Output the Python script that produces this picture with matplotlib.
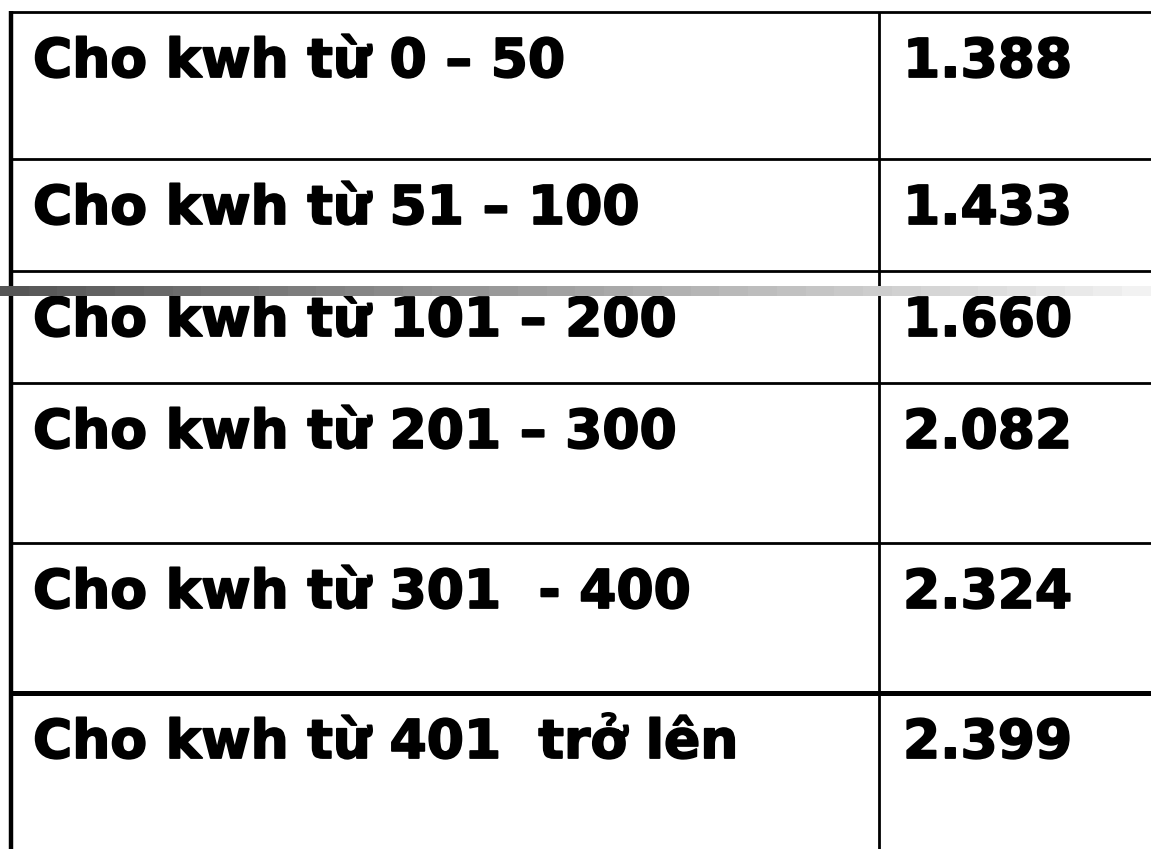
import numpy as np
import matplotlib
matplotlib.use("Agg")
import matplotlib.pyplot as plt
import matplotlib.patheffects as pe

# ---- data ----
labels = ["Cho kwh từ 0 – 50", "Cho kwh từ 51 – 100", "Cho kwh từ 101 – 200",
          "Cho kwh từ 201 – 300", "Cho kwh từ 301  - 400", "Cho kwh từ 401  trở lên"]
prices = ["1.388", "1.433", "1.660", "2.082", "2.324", "2.399"]

# ---- layout (pixel coordinates) ----
W, H = 1151, 849
row_tops = [12, 159, 271, 383, 543, 693]
row_lw = [2.0, 2.0, 2.0, 2.0, 2.0, 3.6]
left_x = 11.5
mid_x = 879
label_x = 33
value_x = 903
baseline_off = 65
fs = 38.5

fig = plt.figure(figsize=(W / 100, H / 100), dpi=100)
ax = fig.add_axes([0, 0, 1, 1])
ax.set_xlim(0, W)
ax.set_ylim(H, 0)
ax.axis("off")

# horizontal rules
for y, lw in zip(row_tops, row_lw):
    ax.plot([left_x, W], [y, y], color="black", lw=lw, solid_capstyle="butt", zorder=2)
# vertical rules
ax.plot([left_x, left_x], [row_tops[0] - 1, H], color="black", lw=3.2, solid_capstyle="butt", zorder=2)
ax.plot([mid_x, mid_x], [row_tops[0], H], color="black", lw=2.0, solid_capstyle="butt", zorder=2)

# text
effects = [pe.withStroke(linewidth=1.3, foreground="black")]
for lab, val, top in zip(labels, prices, row_tops):
    ax.text(label_x, top + baseline_off, lab, fontsize=fs, fontweight="bold",
            family="DejaVu Sans", va="baseline", ha="left", zorder=3, path_effects=effects)
    ax.text(value_x, top + baseline_off, val, fontsize=fs, fontweight="bold",
            family="DejaVu Sans", va="baseline", ha="left", zorder=3, path_effects=effects)

# gradient bar
n = 40
g = np.linspace(0.0, 1.0, n)
left_c, right_c = 0x55 / 255, 0xf2 / 255
vals = left_c + (right_c - left_c) * g
img = vals[None, :]
rgb = np.dstack([img, img, img])
ax.imshow(rgb, extent=[0, W, 296, 286], aspect="auto", interpolation="nearest", zorder=4)

ax.set_xlim(0, W)
ax.set_ylim(H, 0)
fig.savefig("out.png", dpi=100)
